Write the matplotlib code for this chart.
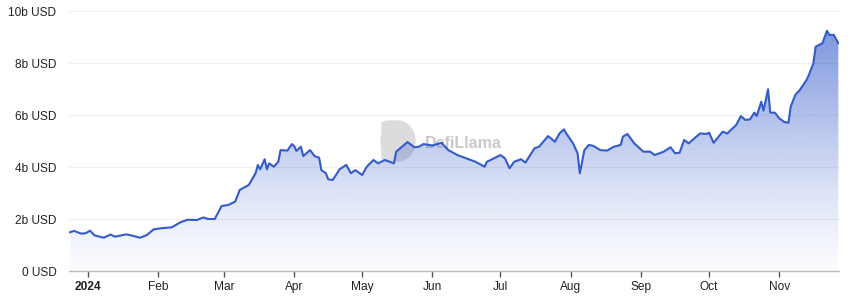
import matplotlib
matplotlib.use("Agg")
import matplotlib.pyplot as plt
import matplotlib.dates as mdates
import matplotlib.patches as mpatches
from matplotlib.colors import to_rgb
import numpy as np
import pandas as pd

# TVL, billions of USD
dates = [
    "2023-12-24", "2023-12-26", "2023-12-29", "2023-12-31", "2024-01-02", "2024-01-04",
    "2024-01-08", "2024-01-11", "2024-01-13", "2024-01-18", "2024-01-21", "2024-01-24",
    "2024-01-27", "2024-01-30", "2024-02-02", "2024-02-07", "2024-02-11", "2024-02-14",
    "2024-02-18", "2024-02-21", "2024-02-23", "2024-02-26", "2024-02-29", "2024-03-03",
    "2024-03-06", "2024-03-08", "2024-03-12", "2024-03-15", "2024-03-16", "2024-03-17",
    "2024-03-19", "2024-03-20", "2024-03-21", "2024-03-23", "2024-03-25", "2024-03-26",
    "2024-03-29", "2024-03-31", "2024-04-01", "2024-04-02", "2024-04-04", "2024-04-05",
    "2024-04-08", "2024-04-10", "2024-04-12", "2024-04-13", "2024-04-15", "2024-04-16",
    "2024-04-18", "2024-04-19", "2024-04-21", "2024-04-24", "2024-04-26", "2024-04-28",
    "2024-05-01", "2024-05-03", "2024-05-06", "2024-05-08", "2024-05-11", "2024-05-15",
    "2024-05-16", "2024-05-19", "2024-05-21", "2024-05-24", "2024-05-26", "2024-05-28",
    "2024-06-01", "2024-06-05", "2024-06-08", "2024-06-12", "2024-06-17", "2024-06-20",
    "2024-06-24", "2024-06-25", "2024-06-28", "2024-07-01", "2024-07-03", "2024-07-05",
    "2024-07-07", "2024-07-10", "2024-07-12", "2024-07-16", "2024-07-18", "2024-07-22",
    "2024-07-25", "2024-07-27", "2024-07-29", "2024-07-30", "2024-08-02", "2024-08-04",
    "2024-08-05", "2024-08-07", "2024-08-09", "2024-08-11", "2024-08-14", "2024-08-17",
    "2024-08-20", "2024-08-23", "2024-08-24", "2024-08-26", "2024-08-29", "2024-09-02",
    "2024-09-05", "2024-09-07", "2024-09-11", "2024-09-14", "2024-09-16", "2024-09-18",
    "2024-09-20", "2024-09-22", "2024-09-27", "2024-09-30", "2024-10-01", "2024-10-03",
    "2024-10-07", "2024-10-09", "2024-10-13", "2024-10-15", "2024-10-17", "2024-10-19",
    "2024-10-21", "2024-10-22", "2024-10-24", "2024-10-25", "2024-10-27", "2024-10-28",
    "2024-10-30", "2024-11-01", "2024-11-03", "2024-11-05", "2024-11-06", "2024-11-08",
    "2024-11-10", "2024-11-13", "2024-11-14", "2024-11-16", "2024-11-17", "2024-11-20",
    "2024-11-22", "2024-11-23", "2024-11-25", "2024-11-27",
]
tvl = [
    1.49, 1.54, 1.44, 1.45, 1.55, 1.37,
    1.28, 1.40, 1.32, 1.41, 1.35, 1.28,
    1.38, 1.60, 1.64, 1.68, 1.88, 1.97,
    1.96, 2.06, 2.00, 2.00, 2.50, 2.54,
    2.67, 3.12, 3.31, 3.76, 4.08, 3.91,
    4.30, 3.91, 4.14, 4.01, 4.20, 4.65,
    4.63, 4.88, 4.81, 4.62, 4.78, 4.42,
    4.65, 4.42, 4.36, 3.88, 3.76, 3.53,
    3.50, 3.63, 3.91, 4.08, 3.76, 3.88,
    3.69, 4.01, 4.27, 4.14, 4.27, 4.14,
    4.59, 4.81, 4.96, 4.76, 4.78, 4.88,
    4.83, 4.93, 4.65, 4.46, 4.30, 4.20,
    4.01, 4.20, 4.33, 4.46, 4.33, 3.95,
    4.20, 4.30, 4.17, 4.72, 4.78, 5.19,
    4.97, 5.29, 5.45, 5.29, 4.91, 4.53,
    3.76, 4.65, 4.85, 4.81, 4.65, 4.63,
    4.78, 4.85, 5.17, 5.27, 4.91, 4.59,
    4.59, 4.46, 4.59, 4.76, 4.53, 4.55,
    5.04, 4.91, 5.29, 5.27, 5.32, 4.93,
    5.36, 5.29, 5.62, 5.96, 5.81, 5.83,
    6.09, 5.96, 6.51, 6.17, 6.99, 6.09,
    6.09, 5.87, 5.74, 5.70, 6.32, 6.77,
    6.96, 7.35, 7.54, 7.99, 8.63, 8.76,
    9.24, 9.08, 9.08, 8.76,
]
yticks = [0, 2, 4, 6, 8, 10]
ytick_labels = ["0 USD", "2b USD", "4b USD", "6b USD", "8b USD", "10b USD"]
xtick_dates = ["2024-01-01", "2024-02-01", "2024-03-01", "2024-04-01", "2024-05-01", "2024-06-01",
               "2024-07-01", "2024-08-01", "2024-09-01", "2024-10-01", "2024-11-01"]
xtick_labels = ["2024", "Feb", "Mar", "Apr", "May", "Jun", "Jul", "Aug", "Sep", "Oct", "Nov"]

line_color = "#335bcc"
plt.rcParams["font.family"] = ["Liberation Sans", "DejaVu Sans"]

df = pd.DataFrame({"date": pd.to_datetime(dates), "tvl": tvl})
x = mdates.date2num(df["date"])
y = df["tvl"].values

fig = plt.figure(figsize=(8.51, 2.98), dpi=100)
ax = fig.add_axes([69 / 851, 27 / 298, 770 / 851, 260 / 298])

x0 = mdates.date2num(pd.Timestamp("2023-12-24"))
x1 = mdates.date2num(pd.Timestamp("2024-11-27"))
ax.set_xlim(x0 - 0.3, x1 + 0.3)
ax.set_ylim(0, 10)

# watermark (logo + name), sits behind the fill and line
ax.text(0.462, 0.49, "DefiLlama", transform=ax.transAxes, fontsize=11.5, fontweight="bold",
        color="#c9c9c9", ha="left", va="center", zorder=0.5)
logo_rect = mpatches.FancyBboxPatch((382 / 851, (298 - 161) / 298), 18 / 851, 40 / 298,
                                    boxstyle="round,pad=0,rounding_size=0.01",
                                    transform=fig.transFigure, color="#dcdcdc", zorder=0.5)
ax.add_patch(logo_rect)
logo_circ = mpatches.Ellipse((398 / 851, (298 - 141) / 298), 34 / 851, 40 / 298,
                             transform=fig.transFigure, color="#dcdcdc", zorder=0.5)
ax.add_patch(logo_circ)

# gradient fill under the line
ymax = y.max()
grad = np.linspace(0, 1, 256).reshape(-1, 1)
rgba = np.zeros((256, 1, 4))
rgba[:, :, :3] = to_rgb(line_color)
rgba[:, :, 3] = 0.02 + 0.62 * grad ** 1.25
img = ax.imshow(rgba, extent=[x0, x1, 0, ymax], origin="lower", aspect="auto", zorder=1)
poly = ax.fill_between(x, y, 0, color="none", lw=0)
clip = poly.get_paths()[0]
img.set_clip_path(clip, transform=ax.transData)

ax.plot(x, y, color=line_color, lw=1.5, zorder=3, solid_joinstyle="round")

ax.set_yticks(yticks)
ax.set_yticklabels(ytick_labels)
ax.set_xticks(mdates.date2num(pd.to_datetime(xtick_dates)))
ax.set_xticklabels(xtick_labels)
ax.get_xticklabels()[0].set_fontweight("bold")

ax.grid(axis="y", color="#efefef", lw=0.8)
ax.set_axisbelow(True)
for s in ["top", "right", "left"]:
    ax.spines[s].set_visible(False)
ax.spines["bottom"].set_color("#bdbdbd")
ax.spines["bottom"].set_linewidth(1)
ax.tick_params(axis="y", length=0, pad=9, labelsize=8.6, labelcolor="#222222")
ax.tick_params(axis="x", length=4, width=1, color="#555555", pad=3, labelsize=8.6, labelcolor="#222222")

fig.savefig("out.png", dpi=100)
